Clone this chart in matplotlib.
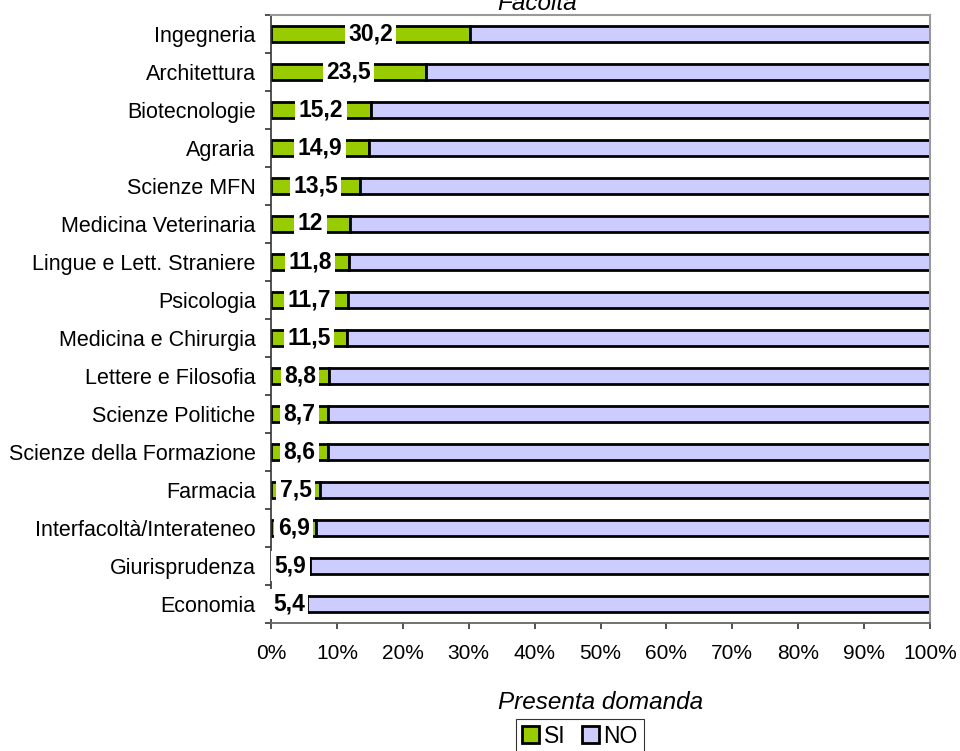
import matplotlib.pyplot as plt
from matplotlib.patches import Patch
from matplotlib.ticker import FixedLocator, PercentFormatter

plt.rcParams['font.family'] = ['Liberation Sans', 'DejaVu Sans']

# Facolta' and share answering SI (%)
facolta = ['Ingegneria', 'Architettura', 'Biotecnologie', 'Agraria', 'Scienze MFN',
           'Medicina Veterinaria', 'Lingue e Lett. Straniere', 'Psicologia',
           'Medicina e Chirurgia', 'Lettere e Filosofia', 'Scienze Politiche',
           'Scienze della Formazione', 'Farmacia', 'Interfacoltà/Interateneo',
           'Giurisprudenza', 'Economia']
si = [30.2, 23.5, 15.2, 14.9, 13.5, 12, 11.8, 11.7, 11.5, 8.8, 8.7, 8.6, 7.5, 6.9, 5.9, 5.4]
no = [100 - v for v in si]

green = '#99CC00'
lilac = '#CCCCFF'

fig = plt.figure(figsize=(9.6, 7.51), dpi=100)
ax = fig.add_axes([271 / 960, 1 - 623 / 751, 659 / 960, 608 / 751])

y = list(range(len(facolta)))
ax.barh(y, si, height=0.42, color=green, edgecolor='black', linewidth=2, label='SI')
ax.barh(y, no, left=si, height=0.42, color=lilac, edgecolor='black', linewidth=2, label='NO')

# value labels in the middle of the SI segment
for i, v in enumerate(si):
    txt = ('%g' % v).replace('.', ',')
    ax.text(v / 2, i, txt, ha='center', va='center', fontsize=16.5, fontweight='bold',
            bbox=dict(facecolor='white', edgecolor='none', pad=2.5), zorder=5, clip_on=False)

ax.set_xlim(0, 100)
ax.set_ylim(len(facolta) - 0.5, -0.5)
ax.xaxis.set_major_locator(FixedLocator(range(0, 101, 10)))
ax.xaxis.set_major_formatter(PercentFormatter(decimals=0))
ax.set_yticks(y)
ax.set_yticklabels(facolta)
ax.yaxis.set_minor_locator(FixedLocator([i - 0.5 for i in range(len(facolta) + 1)]))
ax.tick_params(axis='y', which='major', length=0, pad=11, labelsize=15.5)
ax.tick_params(axis='y', which='minor', length=4, width=1.2, color='#333333')
ax.tick_params(axis='x', length=4, width=1.2, pad=11, labelsize=15, color='#333333')

for s in ['top', 'right']:
    ax.spines[s].set_color('#999999')
    ax.spines[s].set_linewidth(1.5)
ax.spines['bottom'].set_color('#666666')
ax.spines['bottom'].set_linewidth(1.3)
ax.spines['left'].set_color('#333333')
ax.spines['left'].set_linewidth(1.2)

ax.set_xlabel('Presenta domanda', fontsize=17.5, style='italic', labelpad=20)
fig.text(537 / 960, 1 - 3 / 751, 'Facoltà', fontsize=17.5, style='italic', ha='center', va='center')

handles = [Patch(facecolor=green, edgecolor='black', linewidth=2, label='SI'),
           Patch(facecolor=lilac, edgecolor='black', linewidth=2, label='NO')]
leg = fig.legend(handles=handles, loc='upper center', bbox_to_anchor=(580 / 960, 1 - 719 / 751),
                 ncol=2, fontsize=16.5, frameon=True, fancybox=False, edgecolor='black',
                 handlelength=0.75, handleheight=0.75, handletextpad=0.2, columnspacing=0.7,
                 borderpad=0.25, borderaxespad=0)
leg.get_frame().set_linewidth(0.8)

fig.savefig('out.png', dpi=100)
